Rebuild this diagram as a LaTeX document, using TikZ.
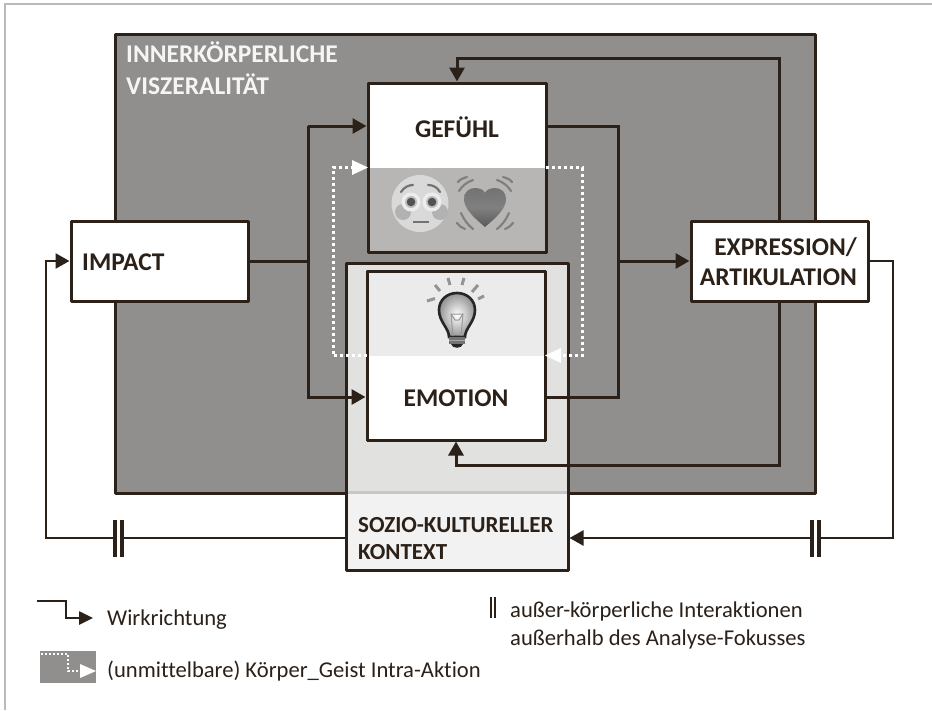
\documentclass[tikz,border=0pt]{standalone}
\usepackage{fontspec}
\setmainfont[Ligatures=NoCommon]{Carlito}
\usetikzlibrary{arrows.meta,calc}
\definecolor{ink}{HTML}{2B2119}
\definecolor{darkbg}{HTML}{918F8D}
\definecolor{midbg}{HTML}{B7B6B5}
\definecolor{ctxa}{HTML}{E1E1DF}
\definecolor{ctxb}{HTML}{F2F2F2}
\definecolor{lightbg}{HTML}{EBEBEB}
\tikzset{
  frame/.style={draw=ink,line width=3pt,inner sep=0pt,outer sep=0pt,line join=round},
  lbl/.style={font=\fontsize{25.5}{32}\selectfont\bfseries,text=ink,inner sep=0pt,align=left},
  smalllbl/.style={font=\fontsize{23}{27}\selectfont\bfseries,text=ink,inner sep=0pt,align=left},
  legend/.style={font=\fontsize{22.6}{28}\selectfont,text=ink,inner sep=0pt,align=left},
  conn/.style={draw=ink,line width=3pt,line join=miter},
  wire/.style={conn,shorten >=1.5pt,-{Triangle[length=14pt,width=15pt]}},
  thinwire/.style={draw=ink,line width=2.6pt},
  thinarrow/.style={thinwire,shorten >=1.5pt,-{Triangle[length=14pt,width=15pt]}},
  bar/.style={draw=ink,line width=4pt},
  dots/.style={draw=white,line width=3pt,dash pattern=on 3pt off 3pt},
  dotarrow/.style={fill=white,draw=none},
  emo/.style={line cap=round}
}
\begin{document}
\begin{tikzpicture}[x=1pt,y=-1pt]
\useasboundingbox (0,0) rectangle (932,710);
\fill[white] (0,0) rectangle (932,710);
% page frame
\draw[color=black!27,line width=1.3pt] (5,710) -- (5,4) -- (932,4);
% body
\node[frame,fill=darkbg,minimum width=700pt,minimum height=459pt] (body) at (465,263.5) {};
\node[lbl,text=white!96!black,anchor=base west] (bodyA) at (126,62) {INNERKÖRPERLICHE};
\node[lbl,text=white!96!black,anchor=base west] (bodyB) at (126,94) {VISZERALITÄT};
% context
\node[frame,fill=ctxb,minimum width=222pt,minimum height=307pt] (ctx) at (457,416.5) {};
\fill[ctxa] ($(ctx.north west)+(1.5,1.5)$) rectangle (566.5,493);
\fill[black!22] (347.5,491) rectangle (566.5,494);
\node[smalllbl,anchor=base west] (ctxA) at (358,532) {SOZIO-KULTURELLER};
\node[smalllbl,anchor=base west] (ctxB) at (358,559) {KONTEXT};
% Gefuehl
\node[frame,fill=white,minimum width=178pt,minimum height=169pt] (gef) at (457,167.5) {};
\fill[midbg] (gef.west) rectangle (gef.south east);
\draw[frame] (gef.north west) rectangle (gef.south east);
\node[lbl] (geft) at (457,127) {GEFÜHL};
% Emotion
\node[frame,fill=white,minimum width=178pt,minimum height=169pt] (emo) at (456,355.5) {};
\fill[lightbg] (emo.north west) rectangle (emo.east);
\draw[frame] (emo.north west) rectangle (emo.south east);
\node[lbl] (emot) at (456,398) {EMOTION};
% face
\fill[black!15] (420,203.5) circle (28.5);
\fill[black!30] (403,212) circle (8) (440,212) circle (8);
\fill[white!93!black] (411,202) circle (9.5) (432,202) circle (9.5);
\fill[black!25] (411,202) circle (6) (432,202) circle (6);
\fill[black!68] (411,202) circle (4.3) (432,202) circle (4.3);
\draw[black!55,line width=2.2pt,emo] (401,192) .. controls (404,187) and (409,185) .. (413,185);
\draw[black!55,line width=2.2pt,emo] (428,185) .. controls (433,185) and (437,187) .. (440,192);
\draw[black!55,line width=2.4pt] (413,222) -- (429,222);
% heart
\shade[top color=black!55,bottom color=black!65,middle color=black!50]
  (485,227) .. controls (472,216) and (464,208) .. (464,199)
  .. controls (464,192) and (469,188) .. (475,188)
  .. controls (480,188) and (484,190) .. (485,193)
  .. controls (486,190) and (490,188) .. (495,188)
  .. controls (501,188) and (506,192) .. (506,199)
  .. controls (506,208) and (498,216) .. (485,227) -- cycle;
\begin{scope}[black!50,line width=2.2pt,emo]
\draw (458,182) .. controls (460,179) and (464,178) .. (467,177);
\draw (459,191) .. controls (462,186) and (467,182) .. (473,180);
\draw (512,182) .. controls (510,179) and (506,178) .. (503,177);
\draw (511,191) .. controls (508,186) and (503,182) .. (497,180);
\draw (461,213) .. controls (464,220) and (468,225) .. (473,229);
\draw (457,223) .. controls (459,226) and (462,228) .. (465,229);
\draw (509,213) .. controls (506,220) and (502,225) .. (497,229);
\draw (513,223) .. controls (511,226) and (508,228) .. (505,229);
\end{scope}
% bulb
\begin{scope}[black!42,line width=3pt]
\draw (427,301) -- (435,298.5);
\draw (435,285) -- (440,291);
\draw (448,278) -- (450,285);
\draw (464,278) -- (462,285);
\draw (478,285) -- (472,292);
\draw (484,296) -- (478,299);
\end{scope}
\path[inner color=white,outer color=black!42,draw=black!85,line width=2.6pt]
  (449,337) .. controls (449,328) and (439,322) .. (439,310)
  .. controls (439,300) and (447,293) .. (457,293)
  .. controls (467,293) and (475,300) .. (475,310)
  .. controls (475,322) and (465,328) .. (465,337) -- cycle;
\draw[black!40,line width=1pt] (453,336) -- (451,314) -- (463,314) -- (461,336);
\draw[black!40,line width=1pt] (451,314) -- (455,320) -- (459,320) -- (463,314);
\fill[black!55] (449,337) rectangle (465,344);
\fill[black!85] (451,344) .. controls (452,349) and (462,349) .. (463,344) -- cycle;
\draw[black!35,line width=.8pt] (449,340) -- (465,340);
% connector coordinates
\coordinate (gefIn) at (gef.west |- 0,126);
\coordinate (emoIn) at (emo.west |- 0,397);
\coordinate (gefOut) at (gef.east |- 0,126);
\coordinate (emoOut) at (emo.east |- 0,397);
\coordinate (gefTop) at (gef.north);
\coordinate (emoBot) at (emo.south);
\coordinate (jl) at (308,261);
\coordinate (jr) at (618,261);
% intra-action (dotted)
\coordinate (dl) at (333,167.5);
\coordinate (dr) at (582,167.5);
\draw[dots] (emo.west) -- (dl |- emo.west) -- (dl) -- ($(gef.west)+(-15,0)$);
\fill[dotarrow] (gef.west) -- ++(-16,-7.5) -- ++(0,15) -- cycle;
\draw[dots] (gef.east) -- (dr) -- (dr |- emo.east) -- ($(emo.east)+(15,0)$);
\fill[dotarrow] (emo.east) -- ++(16,-7.5) -- ++(0,15) -- cycle;
% expression and impact boxes placed after inner wires
\node[frame,fill=white,minimum width=177pt,minimum height=80pt] (imp) at (159.5,261) {};
\node[frame,fill=white,minimum width=177pt,minimum height=80pt] (exp) at (779.5,261) {};
% inner wires
\draw[conn] (imp.east) -- (jl);
\draw[wire] (jl |- gefIn) -- (gefIn);
\draw[wire] (jl |- gefIn) -- (jl) -- (jl |- emoIn) -- (emoIn);
\draw[conn] (gefOut) -- (jr |- gefOut) -- (jr |- emoOut) -- (emoOut);
\draw[wire] (jr) -- (exp.west);
\draw[wire] (exp.north) -- (exp.north |- 0,58) -- (gefTop |- 0,58) -- (gefTop);
\draw[wire] (exp.south) -- (exp.south |- 0,465) -- (emoBot |- 0,465) -- (emoBot);
% outer wires
\coordinate (brA) at (819,538);
\coordinate (brB) at (812,538);
\coordinate (blA) at (122,538);
\coordinate (blB) at (115,538);
\draw[thinwire] (exp.east) -- (893,261) -- (893,538) -- (brA);
\draw[thinarrow] (brB) -- (ctx.east |- brB);
\draw[thinwire] (ctx.west |- blA) -- (blA);
\draw[thinarrow] (blB) -- (46,538) -- (46,261) -- (imp.west);
\draw[bar] (812,520) -- (812,557);
\draw[bar] (819,520) -- (819,557);
\draw[bar] (115,520) -- (115,557);
\draw[bar] (122,520) -- (122,557);
% box labels
\node[lbl,anchor=west] (impt) at (82,262) {IMPACT};
\node[lbl,anchor=base east] (expA) at (857,255) {EXPRESSION/};
\node[lbl,anchor=base east] (expB) at (857,285) {ARTIKULATION};
% legend
\coordinate (lgA) at (37,601);
\coordinate (lgB) at (93,618);
\draw[thinwire,-{Triangle[length=14pt,width=13pt]}] (lgA) -- (66,601) -- (66,618) -- (lgB);
\node[legend,anchor=base west] (lgt) at (107,625) {Wirkrichtung};
\node[fill=darkbg,minimum width=56pt,minimum height=32pt,inner sep=0pt,outer sep=0pt] (lgbox) at (68,667) {};
\draw[draw=white,line width=2pt,dash pattern=on 2pt off 2pt] ($(lgbox.north west)+(1,3)$) -- ++(27,0) -- ++(0,17) -- ++(10,0);
\fill[dotarrow] ($(lgbox.east)+(0,4)$) -- ++(-16,-7) -- ++(0,14) -- cycle;
\node[legend,anchor=base west] (lgu) at (107,677) {(unmittelbare) Körper\_Geist Intra-Aktion};
\draw[draw=ink,line width=2pt] (491,597) -- (491,618);
\draw[draw=ink,line width=2pt] (495,597) -- (495,618);
\node[legend,anchor=base west] (lgo) at (510,617) {außer-körperliche Interaktionen};
\node[legend,anchor=base west] (lgp) at (510,645) {außerhalb des Analyse-Fokusses};
\end{tikzpicture}
\end{document}
